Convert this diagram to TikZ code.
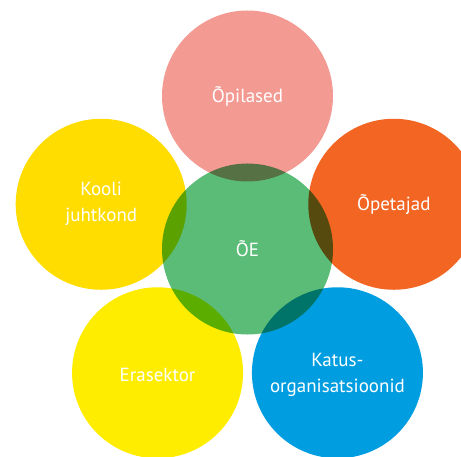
\documentclass[tikz,border=0pt]{standalone}
\usepackage{fontspec}
\setmainfont{PT Sans}
\usepackage{tikz}

\definecolor{roosa}{HTML}{F39A93}
\definecolor{kuldne}{HTML}{FFDD00}
\definecolor{oranz}{HTML}{F26522}
\definecolor{roheline}{HTML}{5BBC77}
\definecolor{kollane}{HTML}{FFED00}
\definecolor{sinine}{HTML}{009EE0}

\tikzset{
  petal/.style={circle,minimum size=171pt,inner sep=0pt,blend mode=multiply},
  lbl/.style={text=white,align=center,font=\fontsize{19}{26}\selectfont}
}

\begin{document}
\begin{tikzpicture}[x=1pt,y=1pt]
              \useasboundingbox (0,0) rectangle (461,456);
              \fill[white] (0,0) rectangle (461,456);
              \clip (0,0) rectangle (461,456);

              %circles
              \node[petal,fill=roheline] (oe) at (247.5,207) {};
              \node[petal,fill=roosa] (opilased) at ([shift={(90:153)}]oe.center) {};
              \node[petal,fill=kuldne] (juhtkond) at ([shift={(163:153)}]oe.center) {};
              \node[petal,fill=oranz] (opetajad) at ([shift={(17:153)}]oe.center) {};
              \node[petal,fill=kollane] (erasektor) at ([shift={(234:153)}]oe.center) {};
              \node[petal,fill=sinine] (katus) at ([shift={(306:153)}]oe.center) {};

              %labels
              \node[lbl] (oe-t) at (oe) {ÕE};
              \node[lbl] (opilased-t) at (opilased) {Õpilased};
              \node[lbl] (juhtkond-t) at (juhtkond) {Kooli\\juhtkond};
              \node[lbl] (opetajad-t) at (opetajad) {Õpetajad};
              \node[lbl] (erasektor-t) at ([yshift=-2pt]erasektor.center) {Erasektor};
              \node[lbl] (katus-t) at ([yshift=-2pt]katus.center) {Katus-\\organisatsioonid};
\end{tikzpicture}
\end{document}
